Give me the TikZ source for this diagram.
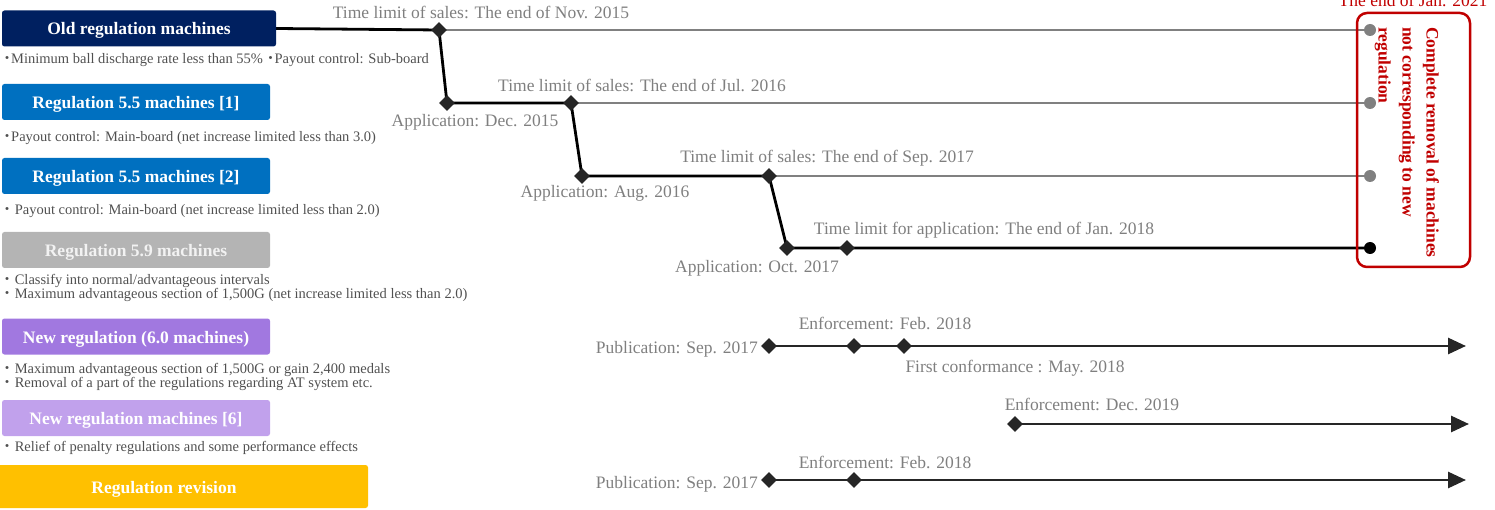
\documentclass[tikz,border=0pt]{standalone}
\usepackage{fontspec}
\setmainfont{Liberation Serif}
\newfontfamily\cjk{Noto Sans CJK JP}
\usetikzlibrary{shapes.geometric,arrows.meta,backgrounds}
\definecolor{navy}{HTML}{002060}
\definecolor{bluebox}{HTML}{0070C0}
\definecolor{graybox}{HTML}{B4B4B4}
\definecolor{purplebox}{HTML}{A178E0}
\definecolor{lpurplebox}{HTML}{C1A1EC}
\definecolor{yellowbox}{HTML}{FFC000}
\definecolor{lblgray}{HTML}{7F7F7F}
\definecolor{descgray}{HTML}{505050}
\definecolor{linegray}{HTML}{808080}
\definecolor{dk}{HTML}{262626}
\definecolor{redc}{HTML}{C00000}
\newcommand{\dt}{\makebox[8pt][c]{\cjk ・}}
\begin{document}
\begin{tikzpicture}[x=1pt,y=-1pt,
  hdr/.style={rounded corners=2.5pt, minimum height=36pt, text=white, inner sep=0,
    font=\bfseries\fontsize{17.5}{20}\selectfont, text height=14pt, text depth=1pt},
  desc/.style={anchor=base west, text=descgray, inner sep=0, font=\fontsize{14.5}{16}\selectfont},
  lbl/.style={anchor=base, text=lblgray, inner sep=0, font=\fontsize{17.5}{20}\selectfont},
  dmd/.style={diamond, fill=dk, minimum size=16pt, inner sep=0},
  endc/.style={circle, fill=linegray, minimum size=12pt, inner sep=0},
  blk/.style={draw=black, line width=2.8pt},
  gry/.style={draw=linegray, line width=2pt},
  tl/.style={draw=dk, line width=2.8pt},
  tlarrow/.style={tl, -{Triangle[length=18pt,width=16pt]}}
]
\useasboundingbox (0,0) rectangle (1495,510);

% header boxes
\node[hdr, fill=navy, minimum width=274pt] (old) at (139,28.5) {Old regulation machines};
\node[hdr, fill=bluebox, minimum width=268pt] (r551) at (136,102) {Regulation 5.5 machines [1]};
\node[hdr, fill=bluebox, minimum width=268pt] (r552) at (136,176) {Regulation 5.5 machines [2]};
\node[hdr, fill=graybox, minimum width=268pt, text=white!95!black] (r59) at (136,250) {Regulation 5.9 machines};
\node[hdr, fill=purplebox, minimum width=268pt] (r60) at (136,336.5) {New regulation (6.0 machines)};
\node[hdr, fill=lpurplebox, minimum width=268pt] (r6) at (136,418) {New regulation machines [6]};
\node[hdr, fill=yellowbox, minimum width=408pt, minimum height=43pt] (rev) at (164,486.5) {Regulation revision};

% descriptions
\node[desc] (t1) at (3,64) {\dt Minimum ball discharge rate less than 55\% \dt Payout control: Sub-board};
\node[desc] (t2) at (3,141.5) {\dt Payout control: Main-board (net increase limited less than 3.0)};
\node[desc] (t3) at (3,215) {\dt\ Payout control: Main-board (net increase limited less than 2.0)};
\node[desc] (t4) at (3,285) {\dt\ Classify into normal/advantageous intervals};
\node[desc] (t5) at (3,298.5) {\dt\ Maximum advantageous section of 1,500G (net increase limited less than 2.0)};
\node[desc] (t6) at (3,373) {\dt\ Maximum advantageous section of 1,500G or gain 2,400 medals};
\node[desc] (t7) at (3,387) {\dt\ Removal of a part of the regulations regarding AT system etc.};
\node[desc] (t8) at (3,451) {\dt\ Relief of penalty regulations and some performance effects};

% staircase markers
\node[dmd] (d1) at (439,30) {};
\node[dmd] (d2) at (447,103) {};
\node[dmd] (d3) at (571,103) {};
\node[dmd] (d4) at (582,176) {};
\node[dmd] (d5) at (769,176) {};
\node[dmd] (d6) at (787,248) {};
\node[dmd] (d7) at (847,248) {};
\node[endc] (c1) at (1370,30) {};
\node[endc] (c2) at (1370,103) {};
\node[endc] (c3) at (1370,176) {};
\node[endc, fill=black] (c4) at (1370,248) {};

\begin{scope}[on background layer]
\draw[blk] (old.east) -- (d1.center);
\draw[gry] (d1.center) -- (c1.center);
\draw[blk] (d1.center) -- (d2.center) -- (d3.center);
\draw[gry] (d3.center) -- (c2.center);
\draw[blk] (d3.center) -- (d4.center) -- (d5.center);
\draw[gry] (d5.center) -- (c3.center);
\draw[blk] (d5.center) -- (d6.center) -- (d7.center) -- (c4.center);
\end{scope}

% staircase labels
\node[lbl] (l1) at (481,19) {Time limit of sales: The end of Nov. 2015};
\node[lbl] (l2) at (642,92) {Time limit of sales: The end of Jul. 2016};
\node[lbl] (l3) at (475,127) {Application: Dec. 2015};
\node[lbl] (l4) at (827,163) {Time limit of sales: The end of Sep. 2017};
\node[lbl] (l5) at (605,198) {Application: Aug. 2016};
\node[lbl] (l6) at (984,235) {Time limit for application: The end of Jan. 2018};
\node[lbl] (l7) at (757,273) {Application: Oct. 2017};

% removal box
\node[draw=redc, line width=2.5pt, rounded corners=10pt, minimum width=113pt, minimum height=254pt, inner sep=0] (rm) at (1413.5,140) {};
\node[rotate=-90, anchor=north west, align=left, inner sep=0, text=redc,
  font=\bfseries\fontsize{17.5}{24}\selectfont] (rmt) at (1439,27)
  {Complete removal of machines\\not corresponding to new\\regulation};
\node[anchor=base, inner sep=0, text=redc, font=\fontsize{17.5}{20}\selectfont] (jan) at (1413,7) {The end of Jan. 2021};

% lower timelines
\node[dmd] (p1) at (769,346) {};
\node[dmd] (e1) at (854,346) {};
\node[dmd] (f1) at (904,346) {};
\coordinate (a1) at (1466,346);
\node[dmd] (e2) at (1015,424) {};
\coordinate (a2) at (1469,424);
\node[dmd] (p3) at (769,480) {};
\node[dmd] (e3) at (854,480) {};
\coordinate (a3) at (1466,480);
\begin{scope}[on background layer]
\draw[tlarrow] (p1.center) -- (a1);
\draw[tlarrow] (e2.center) -- (a2);
\draw[tlarrow] (p3.center) -- (a3);
\end{scope}

\node[lbl, anchor=base east] (pl1) at (758,353) {Publication: Sep. 2017};
\node[lbl] (el1) at (885,330) {Enforcement: Feb. 2018};
\node[lbl] (fl1) at (1015,372) {First conformance : May. 2018};
\node[lbl] (el2) at (1092,410) {Enforcement: Dec. 2019};
\node[lbl, anchor=base east] (pl3) at (758,488) {Publication: Sep. 2017};
\node[lbl] (el3) at (885,468) {Enforcement: Feb. 2018};
\end{tikzpicture}
\end{document}
